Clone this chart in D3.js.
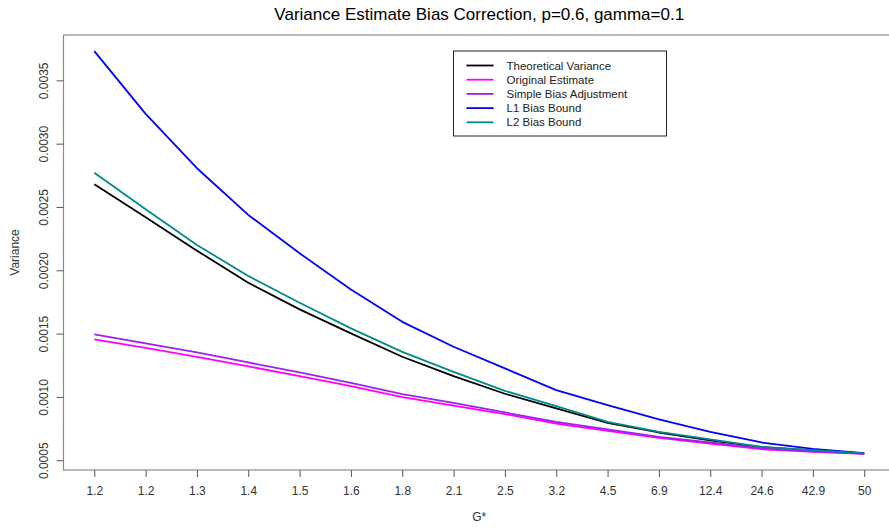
<!DOCTYPE html>
<html>
<head>
<meta charset="utf-8">
<script src="https://cdn.jsdelivr.net/npm/d3@7/dist/d3.min.js"></script>
<style>
  html, body { margin: 0; padding: 0; background: #fff; }
  svg { display: block; font-family: "Liberation Sans", Arial, sans-serif; }
</style>
</head>
<body>
<svg id="chart" width="889" height="529"></svg>
<script>
// G* values shown on the x axis (one per evaluation point)
const gLabels = ["1.2", "1.2", "1.3", "1.4", "1.5", "1.6", "1.8", "2.1", "2.5", "3.2", "4.5", "6.9", "12.4", "24.6", "42.9", "50"];

// Variance curves, one value per G* point
const theoretical = [0.002680, 0.002419, 0.002155, 0.001902, 0.001691, 0.001502, 0.001317, 0.001164, 0.001025, 0.000909, 0.000795, 0.000719, 0.000656, 0.000603, 0.000578, 0.000553];
const original    = [0.001454, 0.001388, 0.001317, 0.001241, 0.001164, 0.001085, 0.000998, 0.000932, 0.000864, 0.000790, 0.000732, 0.000676, 0.000632, 0.000587, 0.000566, 0.000550];
const simpleAdj   = [0.001494, 0.001422, 0.001351, 0.001272, 0.001193, 0.001111, 0.001022, 0.000953, 0.000877, 0.000803, 0.000743, 0.000684, 0.000640, 0.000595, 0.000571, 0.000552];
const l1Bound     = [0.003731, 0.003235, 0.002806, 0.002437, 0.002134, 0.001849, 0.001593, 0.001396, 0.001225, 0.001053, 0.000935, 0.000822, 0.000724, 0.000640, 0.000589, 0.000556];
const l2Bound     = [0.002771, 0.002482, 0.002200, 0.001955, 0.001744, 0.001541, 0.001356, 0.001198, 0.001048, 0.000927, 0.000803, 0.000724, 0.000664, 0.000605, 0.000579, 0.000554];

const yTicks = [0.0005, 0.0010, 0.0015, 0.0020, 0.0025, 0.0030, 0.0035];

const series = [
  { name: "Theoretical Variance",   values: theoretical, color: "#000000" },
  { name: "Original Estimate",      values: original,    color: "#FF00FF" },
  { name: "Simple Bias Adjustment", values: simpleAdj,   color: "#A020F0" },
  { name: "L1 Bias Bound",          values: l1Bound,     color: "#0000FF" },
  { name: "L2 Bias Bound",          values: l2Bound,     color: "#008B8B" }
];

const svg = d3.select("#chart");
const plot = { left: 63.5, right: 895, top: 35, bottom: 470 };

// Index-based x scale with 4% padding on each side
const n = gLabels.length;
const xPad = (n - 1) * 0.04;
const x = d3.scaleLinear().domain([-xPad, n - 1 + xPad]).range([plot.left, plot.right]);

const allVals = series.flatMap(s => s.values);
const [yMin, yMax] = d3.extent(allVals);
const yPad = (yMax - yMin) * 0.04;
const y = d3.scaleLinear().domain([yMin - yPad, yMax + yPad]).range([plot.bottom, plot.top]);

// Plot frame
svg.append("rect")
  .attr("x", plot.left).attr("y", plot.top)
  .attr("width", plot.right - plot.left).attr("height", plot.bottom - plot.top)
  .attr("fill", "none").attr("stroke", "#8a8a8a").attr("stroke-width", 1.2);

// X axis
const xAxis = d3.axisBottom(x)
  .tickValues(d3.range(n))
  .tickFormat(i => gLabels[i])
  .tickSize(7).tickPadding(9);
const gx = svg.append("g").attr("transform", `translate(0,${plot.bottom})`).call(xAxis);
gx.select(".domain").remove();
gx.selectAll(".tick line").attr("stroke", "#555");
gx.selectAll(".tick text").attr("fill", "#333").style("font-size", "12px");

// Y axis with rotated labels
const yAxis = d3.axisLeft(y)
  .tickValues(yTicks)
  .tickFormat(d3.format(".4f"))
  .tickSize(7).tickPadding(0);
const gy = svg.append("g").attr("transform", `translate(${plot.left},0)`).call(yAxis);
gy.select(".domain").remove();
gy.selectAll(".tick line").attr("stroke", "#555");
gy.selectAll(".tick text")
  .attr("fill", "#333").style("font-size", "12px")
  .attr("x", null).attr("dy", null)
  .attr("text-anchor", "middle")
  .attr("transform", "translate(-20,0) rotate(-90)")
  .attr("dy", "0.35em");

// Titles
svg.append("text")
  .attr("x", (plot.left + plot.right) / 2).attr("y", 20)
  .attr("text-anchor", "middle").style("font-size", "17px").attr("fill", "#000")
  .text("Variance Estimate Bias Correction, p=0.6, gamma=0.1");

svg.append("text")
  .attr("x", (plot.left + plot.right) / 2).attr("y", 521)
  .attr("text-anchor", "middle").style("font-size", "12px").attr("fill", "#333")
  .text("G*");

svg.append("text")
  .attr("transform", `translate(19,${(plot.top + plot.bottom) / 2}) rotate(-90)`)
  .attr("text-anchor", "middle").style("font-size", "12px").attr("fill", "#333")
  .text("Variance");

// Curves
const line = d3.line().x((d, i) => x(i)).y(d => y(d));
svg.append("clipPath").attr("id", "plotclip").append("rect")
  .attr("x", plot.left).attr("y", plot.top)
  .attr("width", plot.right - plot.left).attr("height", plot.bottom - plot.top);

svg.append("g").attr("clip-path", "url(#plotclip)")
  .selectAll("path")
  .data(series)
  .join("path")
  .attr("d", s => line(s.values))
  .attr("fill", "none")
  .attr("stroke", s => s.color)
  .attr("stroke-width", 1.8)
  .attr("stroke-linejoin", "round");

// Legend
const legend = svg.append("g");
const lg = { x: 453.5, y: 51, w: 213, h: 85, row: 14.2 };
legend.append("rect")
  .attr("x", lg.x).attr("y", lg.y).attr("width", lg.w).attr("height", lg.h)
  .attr("fill", "#fff").attr("stroke", "#222").attr("stroke-width", 1);
const items = legend.selectAll("g.item").data(series).join("g")
  .attr("class", "item")
  .attr("transform", (d, i) => `translate(0,${lg.y + 14.5 + i * lg.row})`);
items.append("line")
  .attr("x1", 466.5).attr("x2", 493.5)
  .attr("stroke", d => d.color).attr("stroke-width", 1.8);
items.append("text")
  .attr("x", 506.5).attr("dy", "0.35em")
  .style("font-size", "11.5px").attr("fill", "#222")
  .text(d => d.name);
</script>
</body>
</html>
